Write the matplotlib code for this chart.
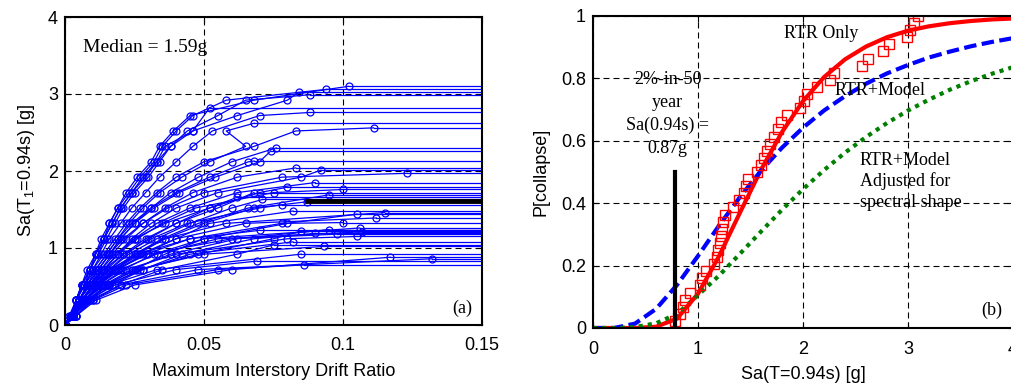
import matplotlib
matplotlib.use("Agg")
import matplotlib.pyplot as plt

plt.rcParams['font.family'] = 'Liberation Sans'
plt.rcParams['mathtext.fontset'] = 'custom'
plt.rcParams['mathtext.rm'] = 'Liberation Sans'
plt.rcParams['mathtext.it'] = 'Liberation Sans:italic'

# --- IDA curves (left panel) ---
sa_steps = [0.12, 0.32, 0.52, 0.72, 0.92, 1.12, 1.32, 1.52, 1.72, 1.92,
            2.12, 2.32, 2.52, 2.72, 2.92]

collapse_sa = [0.78, 0.83, 0.86, 0.88, 0.92, 1.02, 1.04, 1.08, 1.15, 1.18,
               1.19, 1.21, 1.22, 1.23, 1.24, 1.26, 1.33, 1.39, 1.44, 1.46,
               1.48, 1.56, 1.60, 1.63, 1.66, 1.69, 1.72, 1.76, 1.79, 1.85,
               1.97, 2.01, 2.04, 2.13, 2.26, 2.30, 2.56, 2.62, 2.76, 2.82,
               2.99, 3.02, 3.06, 3.10]

final_drift = [0.086, 0.069, 0.132, 0.117, 0.085, 0.093, 0.075, 0.082, 0.105, 0.098,
               0.090, 0.107, 0.085, 0.070, 0.095, 0.106, 0.100, 0.112, 0.105, 0.115,
               0.082, 0.078, 0.087, 0.071, 0.062, 0.095, 0.068, 0.100, 0.080, 0.090,
               0.123, 0.092, 0.083, 0.068, 0.074, 0.076, 0.111, 0.068, 0.088, 0.052,
               0.088, 0.084, 0.094, 0.102]

# drift at each Sa step, one list per ground motion
drift_paths = [
    [0.004, 0.010, 0.022, 0.055],
    [0.003, 0.008, 0.018, 0.040],
    [0.003, 0.009, 0.020, 0.048],
    [0.004, 0.011, 0.025, 0.060],
    [0.003, 0.008, 0.016, 0.033],
    [0.003, 0.007, 0.014, 0.026, 0.050],
    [0.004, 0.010, 0.020, 0.035, 0.062],
    [0.003, 0.008, 0.015, 0.028, 0.045],
    [0.003, 0.007, 0.013, 0.022, 0.040, 0.080],
    [0.003, 0.006, 0.011, 0.018, 0.030, 0.060],
    [0.004, 0.009, 0.017, 0.028, 0.042, 0.068],
    [0.003, 0.007, 0.012, 0.020, 0.033, 0.055],
    [0.003, 0.008, 0.016, 0.027, 0.048, 0.075],
    [0.002, 0.006, 0.010, 0.016, 0.026, 0.045],
    [0.003, 0.007, 0.014, 0.024, 0.038, 0.062],
    [0.003, 0.008, 0.015, 0.025, 0.036, 0.050],
    [0.003, 0.007, 0.012, 0.019, 0.029, 0.045, 0.078],
    [0.002, 0.006, 0.011, 0.018, 0.027, 0.040, 0.065],
    [0.003, 0.007, 0.013, 0.021, 0.032, 0.050, 0.080],
    [0.003, 0.006, 0.011, 0.017, 0.025, 0.036, 0.058],
    [0.003, 0.007, 0.012, 0.019, 0.028, 0.040, 0.052],
    [0.002, 0.005, 0.009, 0.014, 0.021, 0.031, 0.044, 0.070],
    [0.003, 0.007, 0.012, 0.018, 0.026, 0.036, 0.050, 0.068],
    [0.003, 0.006, 0.010, 0.016, 0.023, 0.033, 0.045, 0.060],
    [0.002, 0.005, 0.009, 0.013, 0.018, 0.025, 0.036, 0.052],
    [0.003, 0.007, 0.012, 0.018, 0.025, 0.035, 0.048, 0.066],
    [0.003, 0.006, 0.010, 0.015, 0.021, 0.029, 0.040, 0.055],
    [0.002, 0.005, 0.009, 0.014, 0.019, 0.026, 0.035, 0.047, 0.075],
    [0.003, 0.006, 0.011, 0.016, 0.022, 0.030, 0.040, 0.052, 0.070],
    [0.003, 0.006, 0.010, 0.014, 0.019, 0.025, 0.033, 0.045, 0.062],
    [0.002, 0.005, 0.008, 0.012, 0.016, 0.021, 0.028, 0.037, 0.050, 0.078],
    [0.003, 0.006, 0.010, 0.014, 0.019, 0.024, 0.031, 0.040, 0.055, 0.085],
    [0.003, 0.005, 0.009, 0.013, 0.017, 0.022, 0.028, 0.036, 0.046, 0.062],
    [0.002, 0.004, 0.007, 0.011, 0.015, 0.019, 0.024, 0.031, 0.040, 0.052, 0.066],
    [0.002, 0.005, 0.008, 0.012, 0.016, 0.020, 0.025, 0.032, 0.041, 0.054, 0.070],
    [0.003, 0.005, 0.009, 0.012, 0.016, 0.020, 0.025, 0.031, 0.038, 0.048, 0.060],
    [0.002, 0.004, 0.007, 0.010, 0.014, 0.018, 0.022, 0.027, 0.033, 0.040, 0.050, 0.068, 0.083],
    [0.002, 0.005, 0.008, 0.011, 0.015, 0.019, 0.023, 0.028, 0.034, 0.042, 0.052, 0.065, 0.058],
    [0.002, 0.004, 0.007, 0.010, 0.013, 0.016, 0.020, 0.024, 0.029, 0.034, 0.040, 0.046, 0.053, 0.070],
    [0.002, 0.004, 0.006, 0.009, 0.012, 0.015, 0.018, 0.021, 0.025, 0.030, 0.034, 0.038, 0.046],
    [0.002, 0.004, 0.007, 0.009, 0.012, 0.014, 0.017, 0.020, 0.024, 0.028, 0.033, 0.038, 0.044, 0.055, 0.065],
    [0.002, 0.004, 0.006, 0.009, 0.011, 0.014, 0.017, 0.020, 0.024, 0.029, 0.033, 0.036, 0.046, 0.062, 0.080],
    [0.0015, 0.004, 0.006, 0.009, 0.011, 0.014, 0.016, 0.019, 0.023, 0.027, 0.032, 0.035, 0.040, 0.046, 0.058],
    [0.002, 0.004, 0.006, 0.008, 0.011, 0.013, 0.016, 0.019, 0.022, 0.026, 0.031, 0.034, 0.039, 0.045, 0.068],
]

median_line_sa = 1.61
median_line_start = 0.087

# --- collapse fragility curves (right panel) ---
sa_grid = [0.0, 0.2, 0.4, 0.6, 0.8, 1.0, 1.2, 1.4, 1.6, 1.8, 2.0,
           2.2, 2.4, 2.6, 2.8, 3.0, 3.2, 3.4, 3.6, 3.8, 4.0]
p_rtr = [0.0, 0.0, 0.0, 0.004, 0.03, 0.11, 0.23, 0.37, 0.507, 0.628, 0.727,
         0.804, 0.861, 0.902, 0.932, 0.953, 0.967, 0.977, 0.984, 0.989, 0.992]
p_model = [0.0, 0.0, 0.014, 0.061, 0.138, 0.231, 0.328, 0.42, 0.504, 0.578, 0.642,
           0.697, 0.743, 0.783, 0.816, 0.843, 0.867, 0.886, 0.903, 0.917, 0.929]
p_shape = [0.0, 0.0, 0.003, 0.015, 0.045, 0.105, 0.168, 0.238, 0.309, 0.379, 0.445,
           0.506, 0.562, 0.612, 0.657, 0.697, 0.732, 0.764, 0.791, 0.815, 0.836]

hazard_sa = 0.78
hazard_p = 0.5

x1_ticks = [0, 0.05, 0.1, 0.15]
x1_labels = ['0', '0.05', '0.1', '0.15']
y1_ticks = [0, 1, 2, 3, 4]
x2_ticks = [0, 1, 2, 3, 4]
y2_ticks = [0, 0.2, 0.4, 0.6, 0.8, 1.0]
y2_labels = ['0', '0.2', '0.4', '0.6', '0.8', '1']

grid_style = dict(color='black', linestyle=(0, (5.4, 3.6)), linewidth=0.8)
serif = 'Liberation Serif'

fig = plt.figure(figsize=(10.12, 3.86), dpi=100)
ax1 = fig.add_axes([65 / 1012, 61 / 386, 417 / 1012, 308 / 386])
ax2 = fig.add_axes([593 / 1012, 58 / 386, 420 / 1012, 312 / 386])

# left panel: incremental dynamic analysis curves
for c, fd, path in zip(collapse_sa, final_drift, drift_paths):
    xs = [0] + path + [fd]
    ys = [0] + sa_steps[:len(path)] + [c]
    ax1.plot(xs, ys, '-o', color='blue', lw=0.9, ms=5, mfc='none', mew=0.9)
    ax1.plot([fd, x1_ticks[-1]], [c, c], color='blue', lw=0.9)
ax1.plot([median_line_start, x1_ticks[-1]], [median_line_sa, median_line_sa],
         color='black', lw=3.5)

ax1.set_xlim(0, 0.15)
ax1.set_ylim(0, 4)
ax1.set_xticks(x1_ticks)
ax1.set_xticklabels(x1_labels)
ax1.set_yticks(y1_ticks)
ax1.grid(True, **grid_style)
ax1.set_axisbelow(True)
ax1.set_xlabel('Maximum Interstory Drift Ratio', fontsize=13, labelpad=6)
ax1.set_ylabel('Sa(T$_1$=0.94s) [g]', fontsize=13, labelpad=8)
ax1.text(0.0064, 3.6, 'Median = 1.59g', family=serif, fontsize=14, va='center')
ax1.text(0.1464, 0.22, '(a)', family=serif, fontsize=13, va='center', ha='right')

# right panel: collapse fragility
ax2.plot(sa_grid, p_rtr, color='red', lw=3)
ax2.plot(sa_grid, p_model, color='blue', lw=3, linestyle=(0, (3, 1.3)))
ax2.plot(sa_grid, p_shape, color='#008000', lw=3, linestyle=(0, (1, 1.2)))
sorted_sa = sorted(collapse_sa)
n = len(sorted_sa)
p_emp = [(i + 1) / n for i in range(n)]
ax2.plot(sorted_sa, p_emp, 's', mfc='none', mec='red', ms=7.5, mew=1)
ax2.plot([hazard_sa, hazard_sa], [0, hazard_p], color='black', lw=3)

ax2.set_xlim(0, 4)
ax2.set_ylim(0, 1)
ax2.set_xticks(x2_ticks)
ax2.set_yticks(y2_ticks)
ax2.set_yticklabels(y2_labels)
ax2.grid(True, **grid_style)
ax2.set_axisbelow(True)
ax2.set_xlabel('Sa(T=0.94s) [g]', fontsize=13, labelpad=6)
ax2.set_ylabel('P[collapse]', fontsize=13, labelpad=8)
ax2.text(1.82, 0.945, 'RTR Only', family=serif, fontsize=13, va='center')
ax2.text(2.30, 0.76, 'RTR+Model', family=serif, fontsize=13, va='center')
ax2.text(2.54, 0.47, 'RTR+Model\nAdjusted for\nspectral shape', family=serif,
         fontsize=13, va='center', linespacing=1.25)
ax2.text(0.71, 0.685, '2%-in-50\nyear\nSa(0.94s) =\n0.87g', family=serif,
         fontsize=13, va='center', ha='center', multialignment='center',
         linespacing=1.45)
ax2.text(3.90, 0.058, '(b)', family=serif, fontsize=13, va='center', ha='right')

for ax in (ax1, ax2):
    ax.tick_params(direction='in', length=4, top=True, right=True,
                   labelsize=13, pad=9)
    ax.tick_params(axis='y', pad=5)
    for sp in ax.spines.values():
        sp.set_linewidth(1.5)

fig.savefig('out.png', dpi=100)
